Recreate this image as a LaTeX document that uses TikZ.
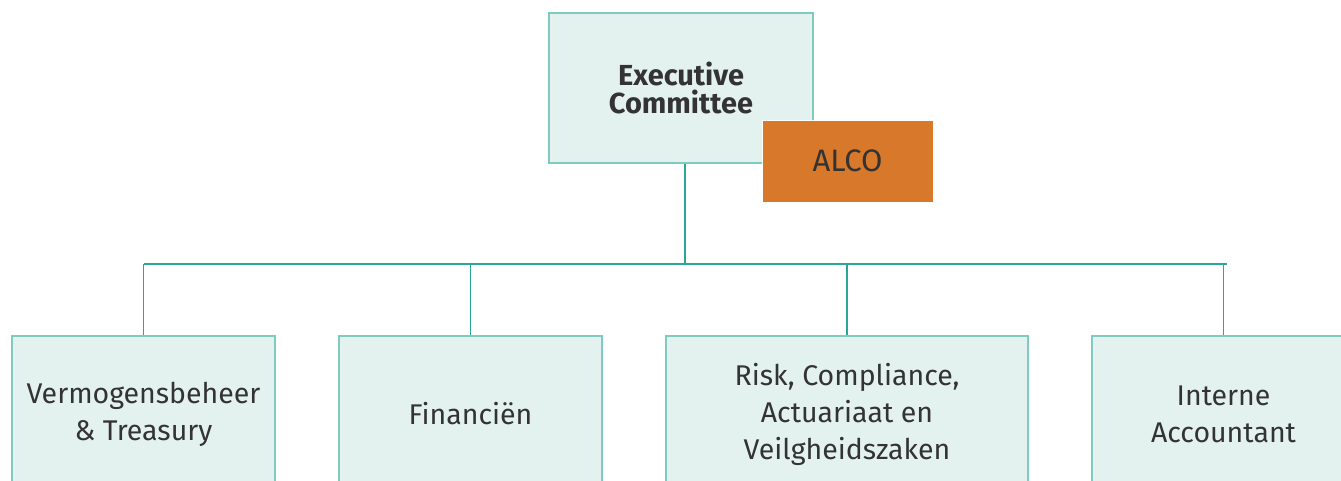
\documentclass[tikz,border=0pt]{standalone}
\usepackage{fontspec}
\setmainfont{Fira Sans}
\usetikzlibrary{positioning}

\definecolor{boxfill}{HTML}{E4F2EF}
\definecolor{boxedge}{HTML}{80CBC0}
\definecolor{linkline}{HTML}{2BA597}
\definecolor{alcofill}{HTML}{D8782A}
\definecolor{textgray}{HTML}{333333}

\tikzset{
  unit/.style={draw=boxedge, line width=1.4pt, fill=boxfill, text=textgray,
    align=center, inner sep=0pt, minimum height=156, font=\fontsize{28.5}{37}\selectfont},
  link/.style={draw=linkline, line width=1.4pt}
}

\begin{document}
\begin{tikzpicture}[x=1pt,y=-1pt]
\useasboundingbox (0,0) rectangle (1341,481);
\clip (0,0) rectangle (1341,481);

%Top of the chart
\node (exec) [unit, minimum width=264, minimum height=150,
  font=\fontsize{29}{28}\selectfont\bfseries] at (681,88) {Executive\\Committee};
\node (alco) [draw=white, line width=0.8pt, fill=alcofill, text=textgray, inner sep=0pt,
  minimum width=171, minimum height=82, font=\fontsize{31}{34}\selectfont] at (847.5,161) {ALCO};

%Departments
\node (vermogen) [unit, minimum width=263] at (143.5,414) {Vermogensbeheer\\\& Treasury};
\node (financien) [unit, minimum width=263] at (470.5,414) {Financiën};
\node (risk) [unit, minimum width=362] at (847,414) {Risk, Compliance,\\Actuariaat en\\Veilgheidszaken};
\node (interne) [unit, minimum width=263] at (1223.5,414) {Interne\\Accountant};

%Lines
\coordinate (bus) at (685,264);
\draw[link] (exec.south -| bus) -- (bus);
\draw[link] (vermogen.north |- bus) -- ([xshift=3]interne.north |- bus);
\foreach \dept in {vermogen,financien,risk,interne}
\draw[link] (\dept.north |- bus) -- (\dept.north);

\end{tikzpicture}
\end{document}
